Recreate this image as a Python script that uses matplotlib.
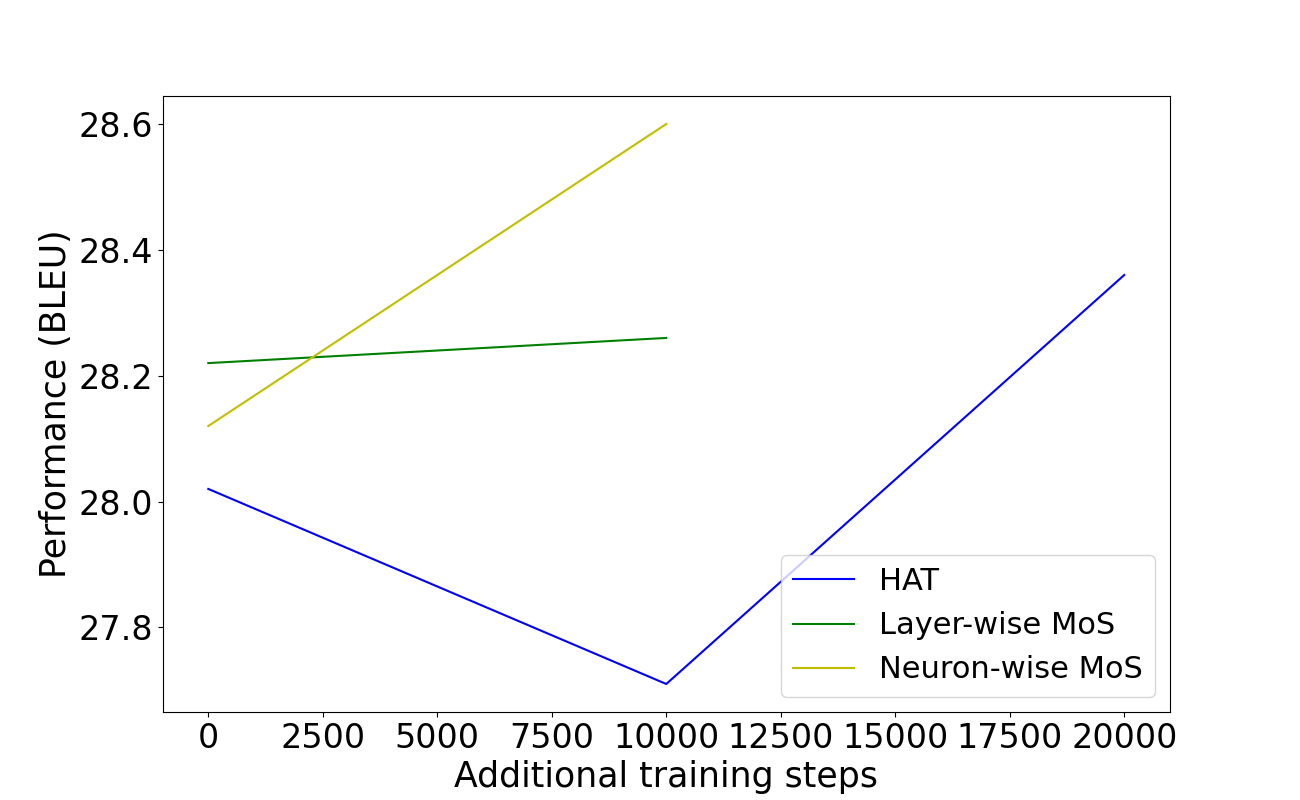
import matplotlib
matplotlib.use("Agg")
import matplotlib.pyplot as plt

# additional training steps and BLEU scores
hat_steps = [0, 10000, 20000]
hat_bleu = [28.02, 27.71, 28.36]

layer_steps = [0, 10000]
layer_bleu = [28.22, 28.26]

neuron_steps = [0, 10000]
neuron_bleu = [28.12, 28.60]

plt.figure(figsize=(13, 8), dpi=100)
plt.plot(hat_steps, hat_bleu, color='b', label='HAT')
plt.plot(layer_steps, layer_bleu, color='g', label='Layer-wise MoS')
plt.plot(neuron_steps, neuron_bleu, color='y', label='Neuron-wise MoS')

plt.xlabel("Additional training steps", fontsize=25)
plt.ylabel("Performance (BLEU)", fontsize=25)
plt.xticks([0, 2500, 5000, 7500, 10000, 12500, 15000, 17500, 20000], fontsize=24)
plt.yticks([27.8, 28.0, 28.2, 28.4, 28.6], fontsize=24)
plt.legend(loc='lower right', fontsize=22)

plt.savefig("out.png")
